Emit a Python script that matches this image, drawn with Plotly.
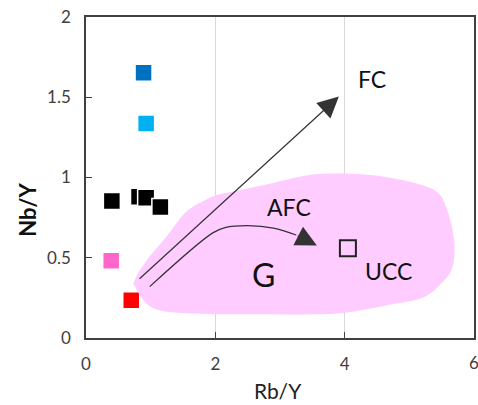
import plotly.graph_objects as go

# ---- data ----
black_x = [0.40, 0.82, 0.93, 1.15]
black_y = [0.854, 0.88, 0.874, 0.816]
darkblue_x = [0.89]
darkblue_y = [1.653]
lightblue_x = [0.93]
lightblue_y = [1.337]
pink_x = [0.39]
pink_y = [0.482]
red_x = [0.70]
red_y = [0.235]
ucc_x = [4.05]
ucc_y = [0.559]

# field "G" outline
g_x = [0.73, 0.93, 1.09, 1.5, 2.0, 2.6, 3.5, 4.01, 4.68, 5.24, 5.5, 5.65, 5.70,
       5.6, 5.45, 5.14, 4.6, 4.26, 3.55, 2.72, 2.3, 2.01, 1.75, 1.55, 1.24, 0.98, 0.80]
g_y = [0.34, 0.216, 0.178, 0.155, 0.148, 0.148, 0.148, 0.158, 0.206, 0.257, 0.343, 0.424, 0.569,
       0.779, 0.903, 0.96, 1.005, 1.02, 1.02, 0.95, 0.915, 0.89, 0.839, 0.787, 0.63, 0.506, 0.40]

# FC arrow (tail, head)
fc_tail = (0.805, 0.361)
fc_head = (3.91, 1.504)
# AFC curved path
afc_x = [0.985, 1.96, 2.15, 2.5, 2.9, 3.25]
afc_y = [0.32, 0.655, 0.688, 0.70, 0.685, 0.642]
afc_head = (3.57, 0.576)

xticks = [0, 2, 4, 6]
yticks = [0, 0.5, 1, 1.5, 2]
ytick_text = ["0", "0.5", "1", "1.5", "2"]

FONT = "Lato"
fig = go.Figure()

def sq(x, y, color):
    fig.add_trace(go.Scatter(x=x, y=y, mode="markers", hoverinfo="skip",
                             marker=dict(symbol="square", size=17, color=color,
                                         line=dict(color="white", width=1.5))))

sq(red_x, red_y, "#FF0000")
fig.add_trace(go.Scatter(x=g_x, y=g_y, mode="lines", fill="toself", line_shape="spline",
                         fillcolor="#FFCCFF", line=dict(width=0, color="#FFCCFF"),
                         hoverinfo="skip"))
sq(black_x, black_y, "#000000")
sq(darkblue_x, darkblue_y, "#0070C0")
sq(lightblue_x, lightblue_y, "#00B0F0")
sq(pink_x, pink_y, "#FF66CC")

fig.add_trace(go.Scatter(x=afc_x, y=afc_y, mode="lines", line_shape="spline",
                         line=dict(color="#333333", width=1.2), hoverinfo="skip"))
fig.add_trace(go.Scatter(x=ucc_x, y=ucc_y, mode="markers", hoverinfo="skip",
                         marker=dict(symbol="square-open", size=16, color="#222222",
                                     line=dict(width=2))))

annots = [
    dict(x=fc_head[0], y=fc_head[1], ax=fc_tail[0], ay=fc_tail[1], xref="x", yref="y",
         axref="x", ayref="y", showarrow=True, arrowhead=2, arrowsize=3.5,
         arrowwidth=1.2, arrowcolor="#333333", text=""),
    dict(x=afc_head[0], y=afc_head[1], ax=afc_x[-1], ay=afc_y[-1], xref="x", yref="y",
         axref="x", ayref="y", showarrow=True, arrowhead=2, arrowsize=3.5,
         arrowwidth=1.2, arrowcolor="#333333", text=""),
    dict(x=4.42, y=1.615, text="FC", showarrow=False, font=dict(size=23, color="#111111", family=FONT)),
    dict(x=3.14, y=0.818, text="AFC", showarrow=False, font=dict(size=23, color="#111111", family=FONT)),
    dict(x=4.68, y=0.419, text="UCC", showarrow=False, font=dict(size=23, color="#111111", family=FONT)),
    dict(x=2.75, y=0.393, text="G", showarrow=False, font=dict(size=32, color="#111111", family=FONT)),
    dict(x=279, y=405 - 390, xref="paper", yref="paper", text="Rb/Y", showarrow=False,
         xanchor="center", yanchor="middle",
         font=dict(size=21, color="#222222", family=FONT)),
    dict(x=27, y=405 - 209.5, xref="paper", yref="paper", text="<b>Nb/Y</b>", showarrow=False,
         xanchor="center", yanchor="middle",
         textangle=-90, font=dict(size=22, color="#111111", family=FONT)),
    dict(x=476, y=405 - 362, xref="paper", yref="paper", text="6", showarrow=False,
         xanchor="center", yanchor="middle",
         font=dict(size=17, color="#404040", family=FONT)),
]
# convert paper pixel positions to paper fractions
for a in annots:
    if a.get("xref") == "paper":
        a["x"] = (a["x"] - 86) / 390
        a["y"] = (a["y"] - 67) / 321
fig.update_layout(annotations=annots)

fig.update_layout(
    width=478, height=405, margin=dict(l=86, r=2, t=17, b=67),
    paper_bgcolor="white", plot_bgcolor="white", showlegend=False,
    font=dict(family=FONT, size=17, color="#404040"),
    xaxis=dict(range=[0, 6], tickvals=xticks[:-1], showgrid=True, gridcolor="#d9d9d9", gridwidth=1,
               zeroline=False, showline=True, linecolor="#404040", linewidth=1.5, mirror=True,
               ticks="inside", ticklen=6, tickcolor="#404040", ticklabelstandoff=10),
    yaxis=dict(range=[0, 2], tickvals=yticks, ticktext=ytick_text, showgrid=False,
               zeroline=False, showline=True, linecolor="#404040", linewidth=1.5, mirror=True,
               ticks="inside", ticklen=6, tickcolor="#404040", ticklabelstandoff=10),
)
fig.write_html("out.html")
